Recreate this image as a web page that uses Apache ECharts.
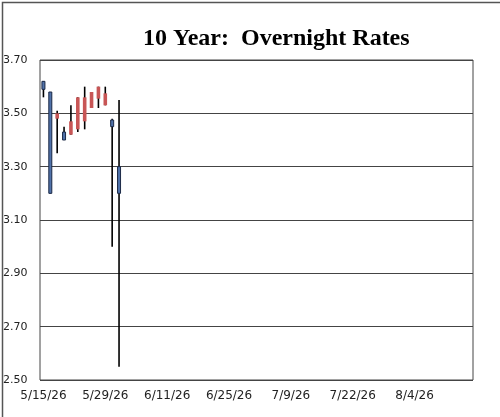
<!DOCTYPE html>
<html>
<head>
<meta charset="utf-8">
<script src="https://cdn.jsdelivr.net/npm/echarts@6/dist/echarts.min.js"></script>
<style>
html,body{margin:0;padding:0;background:#fff;}
#c{width:500px;height:417px;}
</style>
</head>
<body>
<div id="c"></div>
<script>
// Business-day categories (x axis)
const categories = [
  '5/15/26','5/18/26','5/19/26','5/20/26','5/21/26','5/22/26','5/26/26','5/27/26','5/28/26','5/29/26',
  '6/1/26','6/2/26','6/3/26','6/4/26','6/5/26','6/8/26','6/9/26','6/10/26','6/11/26','6/12/26',
  '6/15/26','6/16/26','6/17/26','6/18/26','6/22/26','6/23/26','6/24/26','6/25/26','6/26/26','6/29/26',
  '6/30/26','7/1/26','7/2/26','7/6/26','7/7/26','7/8/26','7/9/26','7/10/26','7/13/26','7/14/26',
  '7/15/26','7/16/26','7/17/26','7/20/26','7/21/26','7/22/26','7/23/26','7/24/26','7/27/26','7/28/26',
  '7/29/26','7/30/26','7/31/26','8/3/26','8/4/26','8/5/26','8/6/26','8/7/26','8/10/26','8/11/26',
  '8/12/26','8/13/26','8/14/26'
];
// OHLC values for the days with data
const openVals  = [3.62, 3.58, 3.48, 3.43, 3.42, 3.44, 3.47, 3.52, 3.555, 3.53, 3.475, 3.30];
const closeVals = [3.59, 3.20, 3.50, 3.40, 3.47, 3.56, 3.56, 3.58, 3.60, 3.575, 3.45, 3.20];
const lowVals   = [3.56, 3.20, 3.35, 3.40, 3.42, 3.43, 3.44, 3.52, 3.52, 3.53, 3.00, 2.55];
const highVals  = [3.62, 3.58, 3.51, 3.45, 3.53, 3.56, 3.60, 3.58, 3.60, 3.60, 3.48, 3.55];
// Y axis
const yMin = 2.5, yMax = 3.7, yStep = 0.2;
const title = '10 Year:  Overnight Rates';

const data = openVals.map((o, i) => [i, o, closeVals[i], lowVals[i], highVals[i]]);

const chart = echarts.init(document.getElementById('c'), null, {renderer: 'canvas'});
chart.setOption({
  backgroundColor: '#fff',
  animation: false,
  title: {
    text: title,
    left: 138, top: 22,
    textStyle: {fontFamily: 'Liberation Serif', fontWeight: 'bold', fontSize: 24, color: '#000'}
  },
  graphic: [{
    type: 'rect', left: 0, top: 0, z: 100,
    shape: {x: 0.75, y: 0.75, width: 498.5, height: 415.5},
    style: {fill: 'none', stroke: '#555', lineWidth: 1.5}
  }],
  grid: {left: 40, right: 27, top: 60, bottom: 37, show: true, borderColor: '#444', borderWidth: 1, backgroundColor: '#fff'},
  xAxis: {
    type: 'category', data: categories, boundaryGap: true,
    axisLine: {show: false}, axisTick: {show: false}, splitLine: {show: false},
    axisLabel: {interval: 8, margin: 10, fontFamily: 'DejaVu Sans', fontSize: 12, color: '#222'}
  },
  yAxis: {
    type: 'value', min: yMin, max: yMax, interval: yStep,
    axisLine: {show: false}, axisTick: {show: false},
    splitLine: {show: true, lineStyle: {color: '#444', width: 1}},
    axisLabel: {align: 'left', margin: 37, fontFamily: 'DejaVu Sans', fontSize: 11, color: '#222',
      formatter: v => v.toFixed(2)}
  },
  series: [{
    type: 'custom',
    data: data,
    encode: {x: 0, y: [1, 2, 3, 4]},
    renderItem: function (params, api) {
      const idx = api.value(0);
      const o = api.value(1), c = api.value(2), l = api.value(3), h = api.value(4);
      const x = api.coord([idx, o])[0];
      const yo = api.coord([idx, o])[1];
      const yc = api.coord([idx, c])[1];
      const yl = api.coord([idx, l])[1];
      const yh = api.coord([idx, h])[1];
      const up = c >= o;
      const top = Math.min(yo, yc), hgt = Math.max(Math.abs(yo - yc), 1);
      return {
        type: 'group',
        children: [
          {type: 'line', shape: {x1: x, y1: yh, x2: x, y2: yl}, style: {stroke: '#000', lineWidth: 1.6}},
          up ? {type: 'rect', shape: {x: x - 1.8, y: top, width: 3.6, height: hgt}, style: {fill: '#c85656'}}
             : {type: 'rect', shape: {x: x - 1.5, y: top, width: 3, height: hgt}, style: {fill: '#5072aa', stroke: '#1c2a47', lineWidth: 1}}
        ]
      };
    }
  }]
});
</script>
</body>
</html>
